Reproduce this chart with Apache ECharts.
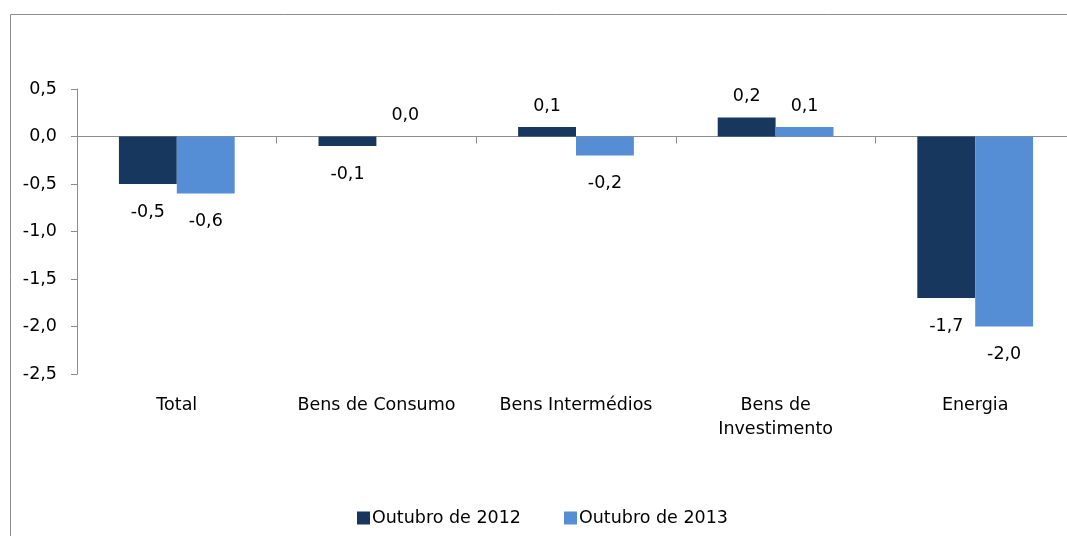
<!DOCTYPE html>
<html>
<head>
<meta charset="utf-8">
<script src="https://cdn.jsdelivr.net/npm/echarts@6/dist/echarts.min.js"></script>
<style>
  html, body { margin: 0; padding: 0; background: #fff; overflow: hidden; }
  #main { width: 1100px; height: 536px; }
</style>
</head>
<body>
<div id="main"></div>
<script>
// dados
var categories = ['Total', 'Bens de Consumo', 'Bens Intermédios', 'Bens de\nInvestimento', 'Energia']
var serie2012 = [-0.5, -0.1, 0.1, 0.2, -1.7]
var serie2013 = [-0.6, 0.0, -0.2, 0.1, -2.0]
var seriesNames = ['Outubro de 2012', 'Outubro de 2013']

var fontFamily = 'DejaVu Sans'
var fontSize = 17.5
var fmt = function (v) { return Number(v).toFixed(1).replace('.', ',') }

function toItems(values) {
  return values.map(function (v) {
    return {
      value: v,
      label: { position: v < 0 ? 'bottom' : 'top', distance: v < 0 ? 19 : 12 }
    }
  })
}

var myChart = echarts.init(document.getElementById('main'))
var option = {
  backgroundColor: '#fff',
  textStyle: { fontFamily: fontFamily },
  graphic: [{
    type: 'rect',
    shape: { x: 10.5, y: 14.5, width: 3000, height: 3000 },
    style: { fill: 'none', stroke: '#8c8c8c', lineWidth: 1 },
    silent: true
  }],
  legend: {
    data: seriesNames,
    left: 352,
    top: 504,
    itemWidth: 13,
    itemHeight: 13,
    itemGap: 43,
    icon: 'rect',
    textStyle: { fontFamily: fontFamily, fontSize: fontSize, color: '#000', padding: [0, 0, 0, -3] }
  },
  grid: { left: 77, top: 89, width: 998, height: 285, containLabel: false },
  xAxis: [
    {
      type: 'category',
      data: categories,
      axisLine: { onZero: true, lineStyle: { color: '#8c8c8c' } },
      axisTick: { show: true, length: 7, lineStyle: { color: '#8c8c8c' } },
      axisLabel: { show: false },
      splitLine: { show: false }
    },
    {
      type: 'category',
      data: categories,
      position: 'bottom',
      axisLine: { show: false },
      axisTick: { show: false },
      axisLabel: { interval: 0, margin: 19, fontSize: fontSize, lineHeight: 24, color: '#000', fontFamily: fontFamily },
      splitLine: { show: false }
    }
  ],
  yAxis: {
    type: 'value',
    min: -2.5,
    max: 0.5,
    interval: 0.5,
    axisLine: { show: true, lineStyle: { color: '#8c8c8c' } },
    axisTick: { show: true, length: 6, lineStyle: { color: '#8c8c8c' } },
    axisLabel: { margin: 20, fontSize: fontSize, color: '#000', fontFamily: fontFamily, formatter: fmt },
    splitLine: { show: false }
  },
  series: [
    {
      name: seriesNames[0],
      type: 'bar',
      data: toItems(serie2012),
      color: '#17375E',
      barGap: '0%',
      barCategoryGap: '42%',
      label: { show: true, fontSize: fontSize, color: '#000', fontFamily: fontFamily, formatter: function (p) { return fmt(p.value) } }
    },
    {
      name: seriesNames[1],
      type: 'bar',
      data: toItems(serie2013),
      color: '#558ED5',
      barGap: '0%',
      barCategoryGap: '42%',
      label: { show: true, fontSize: fontSize, color: '#000', fontFamily: fontFamily, formatter: function (p) { return fmt(p.value) } }
    }
  ]
}
myChart.setOption(option)
</script>
</body>
</html>
